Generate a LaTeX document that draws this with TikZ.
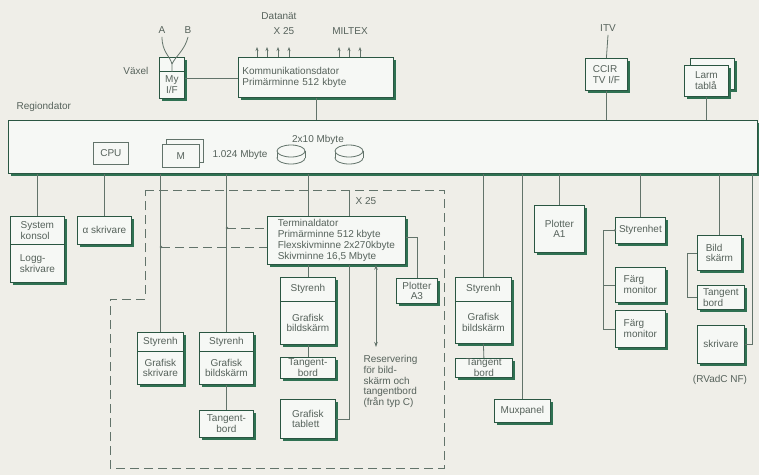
\documentclass[tikz,border=0pt]{standalone}
\usepackage{fontspec}
\setmainfont{Liberation Sans}
\usepackage{tikz}
\usetikzlibrary{arrows.meta,shadows}
\definecolor{bgpaper}{HTML}{EFEEE8}
\definecolor{boxfill}{HTML}{F6F8F5}
\definecolor{boxline}{HTML}{2A5642}
\definecolor{boxshade}{HTML}{2F7152}
\definecolor{wirecol}{HTML}{62736A}
\definecolor{ink}{HTML}{56625B}

\begin{document}
\begin{tikzpicture}[x=1pt,y=-1pt,
  every node/.style={font=\fontsize{10}{10.7}\selectfont,text=ink},
  sz/.style 2 args={minimum width=#1pt,minimum height=#2pt},
  unitbox/.style={draw=boxline,fill=boxfill,line width=0.8pt,anchor=north west,
    inner sep=2pt,align=center,
    drop shadow={shadow xshift=2.4pt,shadow yshift=-2.4pt,fill=boxshade,opacity=1}},
  inbox/.style={draw=wirecol,line width=0.8pt,anchor=north west,inner sep=1pt},
  wire/.style={draw=wirecol,line width=0.8pt},
  zone/.style={draw=wirecol,line width=0.9pt,dash pattern=on 9pt off 5pt},
  uparrow/.style={-{Stealth[length=4pt,width=3pt]}}]
  \fill[bgpaper] (0,0) rectangle (759,475);
  \useasboundingbox (0,0) rectangle (759,475);

  \node (datanet) at (279,16) {Datanät};
  \node (x25top) at (284,31) {X 25};
  \node (miltex) at (350,31) {MILTEX};
  \node (lblA) at (162,30) {A};
  \node (lblB) at (188,30) {B};
  \node[anchor=east] (vaxel) at (152,71) {Växel};
  \node (itv) at (608,28) {ITV};
  \node[anchor=west] (regd) at (13,107) {Regiondator};

  \node[unitbox,sz={25}{14}] (myif1) at (159,57) {};
  \node[unitbox,sz={25}{27},inner sep=1pt] (myif2) at (159,71) {My\\I/F};
  \node[unitbox,sz={155}{40},text width=147pt,align=left] (komm) at (238,57)
    {Kommunikationsdator\\Primärminne 512 kbyte};
  \node[unitbox,sz={42}{32},align=left] (ccir) at (585,58) {CCIR\\TV I/F};
  \node[unitbox,sz={44}{31}] (larmb) at (690,58) {};
  \node[unitbox,sz={44}{31},align=left] (larmf) at (684,65) {Larm\\tablå};

  \coordinate (ymerge) at (172,64);
  \draw[wire] (lblA.south) .. controls (162,52) and (170,56) .. (ymerge);
  \draw[wire] (lblB.south) .. controls (185,50) and (175,57) .. (ymerge);
  \draw[wire] (ymerge) -- (myif1.south);
  \draw[wire] ([yshift=-7pt]myif2.north east) -- ([yshift=-7pt]myif2.north east -| komm.west);
  \foreach \dx in {19,29,40,51,101,111,122}
    \draw[wire,uparrow] ([xshift=\dx pt]komm.north west) -- ++(0,-10);

  \node[unitbox,sz={749}{53}] (repd) at (8,120) {};
  \node[inbox,sz={35}{22}] (cpu) at (93,142) {CPU};
  \node[inbox,sz={37}{23}] (memb) at (166,139) {};
  \node[inbox,sz={37}{23},fill=boxfill] (memf) at (162,144) {M};
  \node[anchor=west] (memtxt) at (209,155) {1.024 Mbyte};
  \node (disktxt) at (318,140) {2x10 Mbyte};
  \foreach \cx in {291,349} {
    \draw[wire,fill=boxfill] (\cx,158) ellipse [x radius=14,y radius=6];
    \fill[boxfill] (\cx-14,151) rectangle (\cx+14,158);
    \draw[wire] (\cx-14,151) -- (\cx-14,158) (\cx+14,151) -- (\cx+14,158);
    \draw[wire,fill=boxfill] (\cx,151) ellipse [x radius=14,y radius=6];
  }

  \draw[wire] (komm.south) -- (komm.south |- repd.north);
  \draw[wire] (ccir.north) -- (itv.south);
  \draw[wire] (ccir.south) -- (ccir.south |- repd.north);
  \draw[wire] (larmf.south) -- (larmf.south |- repd.north);

  \draw[zone] (145,190) -- (444,190) -- (444,468) -- (110,468) -- (110,299) -- (145,299) -- cycle;

  \node[unitbox,sz={54}{28},align=left] (sys1) at (10,216) {System\\konsol};
  \node[unitbox,sz={54}{38},align=left] (sys2) at (10,244) {Logg-\\skrivare};
  \node[unitbox,sz={54}{28}] (alpha) at (77,216) {α skrivare};
  \node[unitbox,sz={46}{19}] (skg1) at (137,332) {Styrenh};
  \node[unitbox,sz={46}{33}] (skg2) at (137,351) {Grafisk\\skrivare};
  \node[unitbox,sz={54}{19}] (bl1a) at (199,332) {Styrenh};
  \node[unitbox,sz={54}{33}] (bl1b) at (199,351) {Grafisk\\bildskärm};
  \node[unitbox,sz={54}{27},inner sep=1pt] (tb1) at (199,410) {Tangent-\\bord};

  \node[unitbox,sz={138}{48},align=left] (term) at (267,216)
    {Terminaldator\\Primärminne 512 kbyte\\Flexskivminne 2x270kbyte\\Skivminne 16,5 Mbyte};
  \node[unitbox,sz={41}{25},inner sep=1pt] (plA3) at (396,278) {Plotter\\A3};
  \node[unitbox,sz={55}{24}] (bl2a) at (280,277) {Styrenh};
  \node[unitbox,sz={55}{43}] (bl2b) at (280,301) {Grafisk\\bildskärm};
  \node[unitbox,sz={55}{21},inner sep=0.5pt] (tb2) at (280,357) {Tangent-\\bord};
  \node[unitbox,sz={55}{39},align=left] (tabl) at (280,399) {Grafisk\\tablett};
  \node[anchor=north west,align=left] (resvtxt) at (360,352)
    {Reservering\\för bild-\\skärm och\\tangentbord\\(från typ C)};
  \coordinate (resv) at (376,347);
  \coordinate (x25) at (349,190);
  \node (x25lbl) at (366,201) {X 25};
  \coordinate (tap1) at (227,228);
  \coordinate (tap2) at (161,247);

  \node[unitbox,sz={56}{24}] (bl3a) at (455,277) {Styrenh};
  \node[unitbox,sz={56}{42}] (bl3b) at (455,301) {Grafisk\\bildskärm};
  \node[unitbox,sz={57}{19},inner sep=0.5pt] (tb3) at (455,358) {Tangent\\bord};
  \node[unitbox,sz={56}{23}] (mux) at (494,399) {Muxpanel};
  \node[unitbox,sz={50}{47}] (plA1) at (534,205) {Plotter\\A1};
  \node[unitbox,sz={50}{26}] (styr) at (615,217) {Styrenhet};
  \node[unitbox,sz={50}{35},align=left] (fm1) at (615,267) {Färg\\monitor};
  \node[unitbox,sz={50}{37},align=left] (fm2) at (615,310) {Färg\\monitor};
  \node[unitbox,sz={44}{35},align=left] (bild) at (697,235) {Bild\\skärm};
  \node[unitbox,sz={47}{24},inner sep=1pt,align=left] (tb4) at (697,285) {Tangent\\bord};
  \node[unitbox,sz={47}{38}] (skriv) at (697,325) {skrivare};
  \node (rvadc) at (720,380) {(RVadC NF)};
  \coordinate (fbus) at (603,0);
  \coordinate (tbus) at (687,0);

  \draw[wire] (repd.south -| sys1.north) -- (sys1.north);
  \draw[wire] (repd.south -| alpha.north) -- (alpha.north);
  \draw[wire] (repd.south -| skg1.north) -- (skg1.north);
  \draw[wire] (repd.south -| bl1a.north) -- (bl1a.north);
  \draw[wire] (repd.south -| bl2a.north) -- (term.north -| bl2a.north);
  \draw[wire] (repd.south -| bl3a.north) -- (bl3a.north);
  \draw[wire] (repd.south -| mux.north) -- (mux.north);
  \draw[wire] (repd.south -| plA1.north) -- (plA1.north);
  \draw[wire] (repd.south -| styr.north) -- (styr.north);
  \draw[wire] (repd.south -| bild.north) -- (bild.north);
  \draw[wire] (skriv.east) -| ([xshift=-5pt]repd.south east);

  \draw[wire] (bl1b.south) -- (tb1.north);
  \draw[wire] (term.south -| bl2a.north) -- (bl2a.north);
  \draw[wire] (bl2b.south) -- (tb2.north);
  \draw[wire] (bl3b.south) -- (tb3.north);
  \draw[wire] (x25) -- (x25 |- term.north);
  \draw[wire] ([yshift=-21pt]term.north east) -| (plA3.north);
  \draw[wire] ([xshift=82pt]term.south west) |- (tabl.east);
  \draw[wire,{Stealth[length=5pt,width=3.5pt]}-{Stealth[length=5pt,width=3.5pt]}]
    ([xshift=109pt]term.south west) -- (resv);
  \draw[zone] (tap1) -- (tap1 -| term.west);
  \draw[zone] (tap2) -- (tap2 -| term.west);
  \fill[wirecol] (tap1) circle (1.4pt) (tap2) circle (1.4pt);

  \draw[wire] (styr.west) -- (styr.west -| fbus) |- (fm2.west);
  \draw[wire] (fm1.west) -- (fm1.west -| fbus);
  \fill[wirecol] (styr.west) circle (1.2pt);
  \draw[wire] (bild.west) -- (bild.west -| tbus) |- (tb4.west);
\end{tikzpicture}
\end{document}
